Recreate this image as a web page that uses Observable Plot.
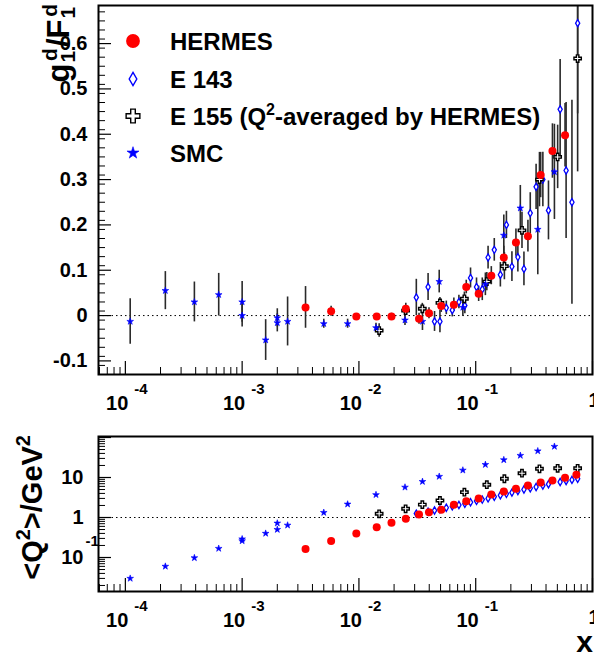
<!DOCTYPE html>
<html>
<head>
<meta charset="utf-8">
<script src="https://cdn.jsdelivr.net/npm/d3@7"></script>
<script src="https://cdn.jsdelivr.net/npm/@observablehq/plot@0.6"></script>
<style>
  html, body { margin: 0; padding: 0; background: #fff; }
  #chart { width: 594px; height: 655px; overflow: hidden; }
  #chart svg { display: block; }
</style>
</head>
<body>
<div id="chart"></div>
<script>
// ---------------- data ----------------
// HERMES
const hermesX   = [0.00349, 0.00578, 0.0095, 0.0142, 0.019, 0.0252, 0.0327, 0.0398, 0.0507, 0.065, 0.083, 0.106, 0.136, 0.174, 0.221, 0.28, 0.36, 0.454, 0.582, 0.728];
const hermesG   = [0.018, 0.0095, -0.002, -0.002, -0.002, 0.015, -0.007, 0.005, 0.021, 0.024, 0.063, 0.048, 0.088, 0.128, 0.161, 0.175, 0.310, 0.363, 0.398, null];
const hermesErr = [0.046, 0.011, 0.005, 0.006, 0.007, 0.012, 0.012, 0.012, 0.014, 0.015, 0.015, 0.017, 0.020, 0.025, 0.030, 0.035, 0.050, 0.060, 0.070, null];
const hermesQ2  = [0.162, 0.26, 0.40, 0.57, 0.74, 0.93, 1.19, 1.36, 1.56, 2.08, 2.56, 3.0, 3.76, 4.47, 5.2, 6.3, 7.5, 8.4, 9.8, 11.7];

// E 143
const e143X   = [0.0310, 0.0391, 0.0444, 0.0494, 0.0560, 0.0630, 0.0718, 0.0807, 0.0903, 0.1016, 0.1138, 0.1276, 0.1442, 0.1626, 0.1832, 0.2042, 0.2296, 0.2588, 0.2931, 0.3289, 0.3758, 0.4198, 0.5284, 0.5943, 0.6668, 0.7464];
const e143G   = [0.040, 0.063, -0.013, -0.013, 0.017, 0.012, 0.030, 0.022, 0.083, 0.063, 0.058, 0.128, 0.145, 0.090, 0.200, 0.108, 0.129, 0.103, 0.226, 0.284, 0.300, 0.232, 0.455, 0.320, 0.250, 0.645];
const e143Err = [0.040, 0.030, 0.022, 0.025, 0.015, 0.015, 0.015, 0.018, 0.022, 0.020, 0.025, 0.025, 0.025, 0.027, 0.030, 0.033, 0.033, 0.037, 0.045, 0.050, 0.060, 0.065, 0.110, 0.150, 0.225, 0.200];
const e143Q2  = [1.25, 1.4, 1.5, 1.6, 1.75, 1.9, 2.05, 2.2, 2.4, 2.6, 2.8, 3.0, 3.3, 3.6, 3.9, 4.2, 4.6, 5.0, 5.4, 5.8, 6.3, 6.8, 7.7, 8.2, 8.7, 9.3];

// E 155 (Q2-averaged by HERMES)
const e155X   = [0.0149, 0.0251, 0.0349, 0.0494, 0.080, 0.1245, 0.176, 0.249, 0.3515, 0.503, 0.746];
const e155G   = [-0.033, 0.011, 0.015, 0.028, 0.037, 0.075, 0.109, 0.188, 0.300, 0.350, 0.567];
const e155Err = [0.015, 0.010, 0.012, 0.012, 0.015, 0.020, 0.030, 0.040, 0.060, 0.070, 0.250];
const e155Q2  = [1.24, 1.65, 2.1, 2.66, 4.3, 6.6, 9.3, 12.8, 16.5, 17, 17];

// SMC
const smcX   = [1.1e-4, 2.2e-4, 3.9e-4, 6.3e-4, 1.0e-3, 1.0e-3, 1.59e-3, 2.0e-3, 2.0e-3, 2.45e-3, 5.0e-3, 8.0e-3, 0.014, 0.0248, 0.035, 0.0487, 0.0776, 0.121, 0.174, 0.241, 0.34, 0.472];
const smcG   = [-0.013, 0.055, 0.030, 0.046, 0.030, 0.000, -0.054, -0.005, -0.016, -0.013, -0.018, -0.018, -0.027, -0.010, -0.013, 0.075, 0.018, 0.069, 0.177, 0.237, 0.190, 0.317];
const smcErr = [0.050, 0.042, 0.044, 0.047, 0.045, 0.025, 0.045, 0.020, 0.020, 0.054, 0.010, 0.010, 0.010, 0.012, 0.020, 0.025, 0.020, 0.025, 0.045, 0.050, 0.100, 0.105];
const smcQ2  = [0.030, 0.060, 0.098, 0.168, 0.29, 0.26, 0.40, 0.72, 0.50, 0.64, 1.33, 2.15, 3.7, 5.7, 7.9, 10.6, 15.2, 21, 27.6, 35.5, 46, 59.6];

// tick labels
const xTickVals = [1e-4, 1e-3, 1e-2, 1e-1, 1];
const xTickBase = ["10", "10", "10", "10", "1"];
const xTickExp  = ["-4", "-3", "-2", "-1", ""];
const gTickVals = [-0.1, 0, 0.1, 0.2, 0.3, 0.4, 0.5, 0.6];
const gTickText = ["-0.1", "0", "0.1", "0.2", "0.3", "0.4", "0.5", "0.6"];
const qTickVals = [0.1, 1, 10];
const qTickBase = ["10", "1", "10"];
const qTickExp  = ["-1", "", ""];

// legend
const legendNames = ["HERMES", "E 143", "E 155 (Q", "SMC"];

// ---------------- build ----------------
const FONT = "'Liberation Sans', Arial, Helvetica, sans-serif";
const RED = "#ff0000", BLUE = "#0000ff", ERR = "#2a2a2a";
const W = 594;
const ML = 98, MR = 2;

function rows(X, G, E, Q) {
  return X.map((x, i) => ({x, g: G[i], e: E[i], q: Q[i]}));
}
const hermes = rows(hermesX, hermesG, hermesErr, hermesQ2);
const e143 = rows(e143X, e143G, e143Err, e143Q2);
const e155 = rows(e155X, e155G, e155Err, e155Q2);
const smc = rows(smcX, smcG, smcErr, smcQ2);
const hasG = d => d.g != null;

const xDom = [10 ** -4.23, 1];
const inDom = (v, dom) => v >= dom[0] && v <= dom[1];
const xMinor = d3.range(-5, 0).flatMap(p => d3.range(2, 10).map(k => k * 10 ** p)).filter(v => inDom(v, xDom));
const xMajor = xTickVals.filter(v => inDom(v, xDom));
const xLab = xTickVals.map((v, i) => ({v, base: xTickBase[i], exp: xTickExp[i]}));

function xAxisMarks(frameH) {
  return [
    Plot.tickX(xMinor, {x: d => d, insetTop: frameH - 7, stroke: "#000", strokeWidth: 1}),
    Plot.tickX(xMajor, {x: d => d, insetTop: frameH - 13, stroke: "#000", strokeWidth: 1.2}),
    Plot.text(xLab.filter(d => d.exp), {x: "v", text: "base", frameAnchor: "bottom", dy: 29, dx: 3, textAnchor: "end", lineAnchor: "middle", fontSize: 20, fontWeight: "bold", fill: "#000"}),
    Plot.text(xLab.filter(d => d.exp), {x: "v", text: "exp", frameAnchor: "bottom", dy: 15, dx: 9, textAnchor: "start", lineAnchor: "middle", fontSize: 15, fontWeight: "bold", fill: "#000"}),
    Plot.text(xLab.filter(d => !d.exp), {x: "v", text: "base", frameAnchor: "bottom", dy: 26, dx: -4, textAnchor: "start", lineAnchor: "middle", fontSize: 20, fontWeight: "bold", fill: "#000"})
  ];
}

function dataMarks(yKey, withErr) {
  const m = [];
  const sets = [
    [e143, {symbol: "diamond", r: 2.2, fill: "white", stroke: BLUE, strokeWidth: 1.3}],
    [e155, {symbol: "cross", r: 3.1, fill: "white", stroke: "#000", strokeWidth: 1.4}],
    [smc, {symbol: "star", r: 2.1, fill: BLUE, stroke: BLUE, strokeWidth: 0.6}],
    [hermes, {symbol: "circle", r: 4, fill: RED, stroke: "none"}]
  ];
  if (withErr) {
    for (const [data] of sets) {
      m.push(Plot.ruleX(data.filter(hasG), {x: "x", y1: d => d.g - d.e, y2: d => d.g + d.e, stroke: ERR, strokeWidth: 1.6, clip: true}));
    }
  }
  for (const [data, opt] of sets) {
    const dd = yKey === "g" ? data.filter(hasG) : data;
    m.push(Plot.dot(dd, {x: "x", y: yKey, ...opt, clip: true}));
  }
  return m;
}

// ---------- top panel ----------
const TH = 415, TMT = 5, TMB = 41;
const topFrameH = TH - TMT - TMB, frameW = W - ML - MR;
const gDom = [-0.130, 0.684];
const gMinor = d3.range(-13, 69, 2).map(k => k / 100).filter(v => inDom(v, gDom) && Math.abs(v * 10 - Math.round(v * 10)) > 1e-6);
const gLab = gTickVals.map((v, i) => ({v, t: gTickText[i]}));

const topPlot = Plot.plot({
  width: W, height: TH,
  marginTop: TMT, marginBottom: TMB, marginLeft: ML, marginRight: MR,
  x: {type: "log", domain: xDom, axis: null},
  y: {domain: gDom, axis: null},
  style: {fontFamily: FONT, background: "white", color: "#000"},
  marks: [
    Plot.ruleY([0], {stroke: "#000", strokeWidth: 1, strokeDasharray: "1.5,3"}),
    ...dataMarks("g", true),
    ...xAxisMarks(topFrameH),
    Plot.tickY(gMinor, {y: d => d, insetRight: frameW - 7, stroke: "#000", strokeWidth: 1}),
    Plot.tickY(gTickVals, {y: d => d, insetRight: frameW - 13, stroke: "#000", strokeWidth: 1.2}),
    Plot.text(gLab, {y: "v", text: "t", frameAnchor: "left", dx: -11, textAnchor: "end", lineAnchor: "middle", fontSize: 20, fontWeight: "bold", fill: "#000"}),
    Plot.frame({stroke: "#000", strokeWidth: 2})
  ]
});

// ---------- bottom panel ----------
const BH = 240, BMT = 21, BMB = 64;
const botFrameH = BH - BMT - BMB;
const qDom = [10 ** -1.85, 10 ** 2.025];
const qMinor = d3.range(-2, 3).flatMap(p => d3.range(2, 10).map(k => k * 10 ** p)).filter(v => inDom(v, qDom));
const qMajor = [0.01, 0.1, 1, 10, 100].filter(v => inDom(v, qDom));
const qLab = qTickVals.map((v, i) => ({v, base: qTickBase[i], exp: qTickExp[i]}));

const botPlot = Plot.plot({
  width: W, height: BH,
  marginTop: BMT, marginBottom: BMB, marginLeft: ML, marginRight: MR,
  x: {type: "log", domain: xDom, axis: null},
  y: {type: "log", domain: qDom, axis: null},
  style: {fontFamily: FONT, background: "white", color: "#000"},
  marks: [
    Plot.ruleY([1], {stroke: "#000", strokeWidth: 1, strokeDasharray: "1.5,3"}),
    ...dataMarks("q", false),
    ...xAxisMarks(botFrameH),
    Plot.tickY(qMinor, {y: d => d, insetRight: frameW - 7, stroke: "#000", strokeWidth: 1}),
    Plot.tickY(qMajor, {y: d => d, insetRight: frameW - 13, stroke: "#000", strokeWidth: 1.2}),
    Plot.text(qLab, {y: "v", text: "base", frameAnchor: "left", dx: -15, textAnchor: "end", lineAnchor: "middle", fontSize: 20, fontWeight: "bold", fill: "#000"}),
    Plot.text(qLab.filter(d => d.exp), {y: "v", text: "exp", frameAnchor: "left", dx: -13, dy: -16, textAnchor: "start", lineAnchor: "middle", fontSize: 15, fontWeight: "bold", fill: "#000"}),
    Plot.frame({stroke: "#000", strokeWidth: 2})
  ]
});

const host = document.getElementById("chart");
host.appendChild(topPlot);
host.appendChild(botPlot);

// ---------- titles and legend (SVG text) ----------
const ts = d3.select(topPlot);
// y title top: g_1^d / F_1^d
{
  const t = ts.append("text")
    .attr("transform", "translate(69,4) rotate(-90)")
    .attr("text-anchor", "end")
    .attr("font-family", FONT).attr("font-weight", "bold").attr("font-size", 31).attr("fill", "#000");
  t.append("tspan").text("g");
  t.append("tspan").attr("font-size", 21).attr("dx", 1).attr("dy", 6).text("1");
  t.append("tspan").attr("font-size", 21).attr("dx", -10).attr("dy", -18).text("d");
  t.append("tspan").attr("dx", 1).attr("dy", 12).text("/F");
  t.append("tspan").attr("font-size", 21).attr("dx", 1).attr("dy", 6).text("1");
  t.append("tspan").attr("font-size", 21).attr("dx", -10).attr("dy", -18).text("d");
}
// legend
{
  const lg = ts.append("g").attr("font-family", FONT).attr("font-weight", "bold").attr("font-size", 24).attr("fill", "#000").attr("text-anchor", "start");
  const sym = [
    {type: d3.symbolCircle, size: 150, fill: RED, stroke: "none", sw: 0},
    {type: d3.symbolDiamond, size: 50, fill: "white", stroke: BLUE, sw: 1.4},
    {type: d3.symbolCross, size: 105, fill: "white", stroke: "#000", sw: 1.4},
    {type: d3.symbolStar, size: 45, fill: BLUE, stroke: BLUE, sw: 0.6}
  ];
  const rowsY = [41, 79, 116, 153];
  legendNames.forEach((name, i) => {
    lg.append("path")
      .attr("d", d3.symbol().type(sym[i].type).size(sym[i].size)())
      .attr("transform", `translate(133,${rowsY[i]})`)
      .attr("fill", sym[i].fill).attr("stroke", sym[i].stroke).attr("stroke-width", sym[i].sw);
    const t = lg.append("text").attr("x", 170).attr("y", rowsY[i] + 9).attr("text-anchor", "start");
    t.append("tspan").text(name);
    if (i === 2) {
      t.append("tspan").attr("font-size", 16).attr("dy", -10).text("2");
      t.append("tspan").attr("dy", 10).text("-averaged by HERMES)");
    }
  });
}

const bs = d3.select(botPlot);
{
  const t = bs.append("text")
    .attr("transform", "translate(42,20) rotate(-90)")
    .attr("text-anchor", "end")
    .attr("font-family", FONT).attr("font-weight", "bold").attr("font-size", 29).attr("fill", "#000");
  t.append("tspan").text("<Q");
  t.append("tspan").attr("font-size", 20).attr("dy", -12).text("2");
  t.append("tspan").attr("dy", 12).text(">/GeV");
  t.append("tspan").attr("font-size", 20).attr("dy", -12).text("2");
}
bs.append("text")
  .attr("x", 593).attr("y", 237)
  .attr("text-anchor", "end")
  .attr("font-family", FONT).attr("font-weight", "bold").attr("font-size", 30).attr("fill", "#000")
  .text("x");
</script>
</body>
</html>
